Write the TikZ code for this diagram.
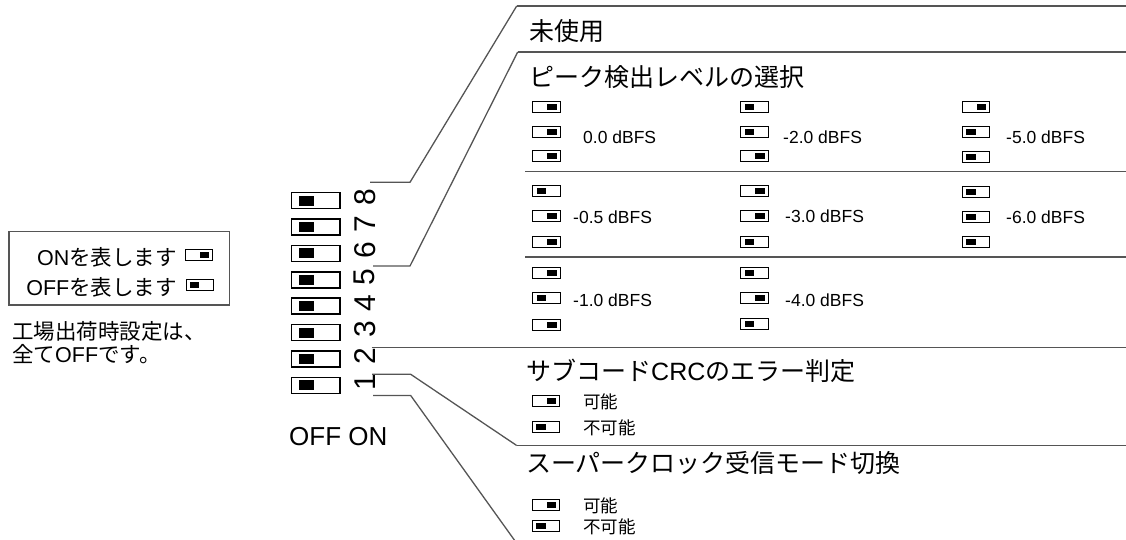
\documentclass[tikz,border=0pt]{standalone}
\usepackage{fontspec}
\setmainfont{Liberation Sans}
\newfontfamily\jp{Noto Sans CJK JP}
\definecolor{ln}{RGB}{85,85,85}
\begin{document}
\begin{tikzpicture}[x=1pt,y=-1pt,
  ssw/.style={draw, line width=1.1pt, minimum width=27.3pt, minimum height=10.6pt, inner sep=0pt, outer sep=0pt},
  sson/.style={ssw, path picture={\fill ([xshift=0.5pt,yshift=-3.3pt]path picture bounding box.center) rectangle ([xshift=10pt,yshift=3.3pt]path picture bounding box.center);}},
  ssoff/.style={ssw, path picture={\fill ([xshift=-10pt,yshift=-3.3pt]path picture bounding box.center) rectangle ([xshift=-0.5pt,yshift=3.3pt]path picture bounding box.center);}},
  dip/.style={draw, line width=1.6pt, minimum width=48.7pt, minimum height=16pt, inner sep=0pt, path picture={\fill ([xshift=-16.9pt,yshift=-5pt]path picture bounding box.center) rectangle ([xshift=-1.9pt,yshift=5pt]path picture bounding box.center);}},
  conn/.style={draw=ln, line width=1.3pt},
  sec/.style={draw=ln, line width=1.6pt},
  txt/.style={inner sep=0pt, anchor=west},
  title/.style={txt, font=\jp\fontsize{25}{30}\selectfont},
  small/.style={txt, font=\fontsize{17.5}{21}\selectfont},
  smalljp/.style={txt, font=\jp\fontsize{17.5}{21}\selectfont},
  digit/.style={rotate=90, inner sep=0pt, font=\fontsize{30}{30}\selectfont}
]
\useasboundingbox (0,0) rectangle (1126,539);

% legend
\node[draw=ln, line width=1.5pt, inner sep=0pt, minimum width=220.2pt, minimum height=73.5pt] (legend) at (119.2,268) {};
\node[txt, anchor=east, font=\fontsize{21.5}{26}\selectfont] (lon) at (177,257) {ON{\jp を表します}};
\node[txt, anchor=east, font=\fontsize{21.5}{26}\selectfont] (loff) at (177,287) {OFF{\jp を表します}};
\node[sson] (ion) at (199.2,255) {};
\node[ssoff] (ioff) at (199.8,285) {};
\node[txt, font=\jp\fontsize{21.5}{26}\selectfont] (f1) at (12,331) {工場出荷時設定は、};
\node[txt, font=\fontsize{21.5}{26}\selectfont] (f2) at (12,354) {{\jp 全て}OFF{\jp です。}};

% dip switches
\foreach \k in {1,...,8}{
  \node[dip] (sw\k) at (315.9,{385.3-26.4*(\k-1)}) {};
  \node[digit] (n\k) at (364.7,{382.3-26.4*(\k-1)}) {\k};
}
\node[txt, font=\fontsize{26}{30}\selectfont] (offon) at (289,437) {OFF ON};

% connectors
\coordinate (s8) at (370,182.3); \coordinate (k8) at (410,182.3);
\coordinate (t8) at (516.7,6); \coordinate (e8) at (1126,6);
\coordinate (s5) at (373,266); \coordinate (k5) at (410,266);
\coordinate (t5) at (517.7,52); \coordinate (e5) at (1126,52);
\coordinate (s3) at (371.7,347.3); \coordinate (e3) at (1126,347.3);
\coordinate (s2) at (372,374.3); \coordinate (k2) at (410.7,374.3);
\coordinate (t2) at (516.7,445.5); \coordinate (e2) at (1126,445.5);
\coordinate (s1) at (373,395.5); \coordinate (k1) at (410.7,395.5);
\coordinate (t1) at (516.5,543);
\coordinate (p1s) at (525,171.5); \coordinate (p1e) at (1126,171.5);
\coordinate (p2s) at (525,257); \coordinate (p2e) at (1126,257);

\draw[conn] (s8) -- (k8) -- (t8);
\draw[sec] (t8) -- (e8);
\draw[conn] (s5) -- (k5) -- (t5);
\draw[sec] (t5) -- (e5);
\draw[sec] (s3) -- (e3);
\draw[conn] (s2) -- (k2) -- (t2);
\draw[sec] (t2) -- (e2);
\draw[conn] (s1) -- (k1) -- (t1);
\draw[sec] (p1s) -- (p1e);
\draw[sec] (p2s) -- (p2e);

% titles
\node[title] (h8) at (529,31) {未使用};
\node[title] (h5) at (529,77) {ピーク検出レベルの選択};
\node[title] (h2) at (526,371) {サブコード{\rmfamily CRC}のエラー判定};
\node[title] (h1) at (526,463) {スーパークロック受信モード切換};

% peak level table
\foreach \cx/\ya/\yb/\yc/\sa/\sb/\sc/\tx/\ty/\lab/\nm in {
  546.5/107/132/156/sson/sson/sson/583/137/0.0/a,
  546.5/191/216/242/ssoff/sson/sson/573/217/-0.5/b,
  546.5/273/298/325/sson/ssoff/sson/573/300/-1.0/c,
  754.5/107/132/156/ssoff/ssoff/sson/783/137/-2.0/d,
  754.5/191/216/242/sson/sson/ssoff/785/216/-3.0/e,
  754.5/273/298/324/ssoff/sson/ssoff/785/300/-4.0/f,
  976.2/107/132/157/sson/ssoff/ssoff/1006/137/-5.0/g,
  976.2/192/217/242/ssoff/ssoff/ssoff/1006/217/-6.0/h}{
  \node[\sa] (\nm1) at (\cx,\ya) {};
  \node[\sb] (\nm2) at (\cx,\yb) {};
  \node[\sc] (\nm3) at (\cx,\yc) {};
  \node[small] (\nm t) at (\tx,\ty) {\lab{} dBFS};
}

% subcode CRC
\node[sson] (cr1) at (546,401) {};
\node[ssoff] (cr2) at (546,427) {};
\node[smalljp] (crt1) at (583,402) {可能};
\node[smalljp] (crt2) at (583,428) {不可能};

% super clock
\node[sson] (sc1) at (546,505) {};
\node[ssoff] (sc2) at (546,526) {};
\node[smalljp] (sct1) at (583,506) {可能};
\node[smalljp] (sct2) at (583,527) {不可能};
\end{tikzpicture}
\end{document}
